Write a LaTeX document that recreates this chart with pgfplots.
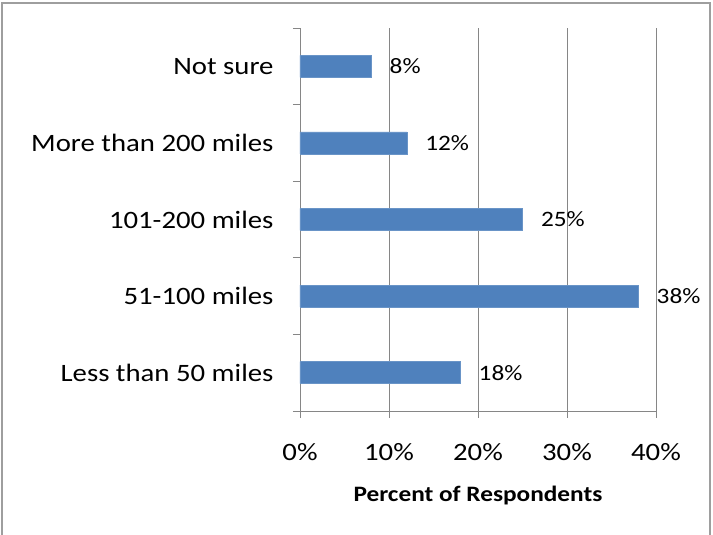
\documentclass[border=0pt]{standalone}
\usepackage{pgfplots}
\pgfplotsset{compat=1.18}
\usepackage{fontspec}
\setmainfont{Carlito}[FakeStretch=1.15]
\definecolor{barblue}{HTML}{4F81BD}
\definecolor{axgray}{HTML}{868686}
\begin{document}
\begin{tikzpicture}[x=1pt,y=1pt]
\useasboundingbox (0,0) rectangle (713,535);
\draw[axgray!80, line width=1.2pt] (2,0) -- (2,532) -- (710,532) -- (710,0);
\begin{axis}[
  at={(300pt,124pt)}, anchor=south west,
  scale only axis, width=356pt, height=383pt,
  xbar, bar width=22pt,
  xmin=0, xmax=40, ymin=-0.5, ymax=4.5,
  axis x line*=bottom, axis y line*=left,
  axis line style={axgray, line width=0.8pt},
  xtick={0,10,20,30,40},
  xticklabels={0\%,10\%,20\%,30\%,40\%},
  xmajorgrids, major grid style={axgray, line width=0.8pt},
  ytick={0,1,2,3,4},
  yticklabels={Less than 50 miles,51-100 miles,101-200 miles,More than 200 miles,Not sure},
  minor ytick={-0.5,0.5,1.5,2.5,3.5,4.5},
  major tick length=7pt, minor tick length=7pt,
  tick align=outside,
  major y tick style={draw=none},
  x tick style={axgray, line width=0.8pt},
  minor y tick style={draw=axgray, line width=0.8pt},
  tick label style={font=\fontsize{25}{30}\selectfont, text=black},
  yticklabel style={xshift=-16pt},
  xticklabel style={yshift=-22pt},
  xlabel={\textbf{Percent of Respondents}},
  xlabel style={font=\fontsize{22}{26}\selectfont, yshift=-18pt},
  nodes near coords={\pgfmathprintnumber[assume math mode=true]{\pgfplotspointmeta}\%},
  nodes near coords style={font=\fontsize{22}{26}\selectfont, anchor=west, xshift=15pt, text=black},
  point meta=x,
  clip=false,
]
\addplot[fill=barblue, draw=barblue!85!white] coordinates {(18,0) (38,1) (25,2) (12,3) (8,4)};
\end{axis}
\end{tikzpicture}
\end{document}
